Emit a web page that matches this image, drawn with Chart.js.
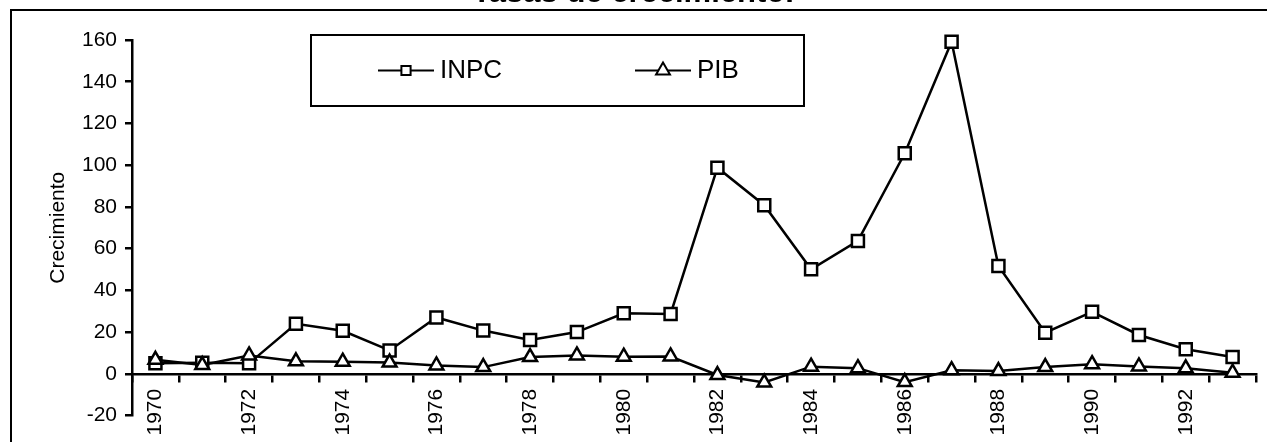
<!DOCTYPE html>
<html lang="es">
<head>
  <meta charset="UTF-8" />
  <title>Tasas de crecimiento</title>
  <script src="https://cdn.jsdelivr.net/npm/chart.js"></script>
  <style>
    body { margin: 0; background: #fff; overflow: hidden; width: 1267px; height: 442px; position: relative; }
    /* marco exterior del grafico, se sale por la derecha y por abajo */
    #frame { position: absolute; left: 10px; top: 9px; width: 1300px; height: 500px; border: 2px solid #000; }
    #wrap { position: absolute; left: 0; top: -25px; }
  </style>
</head>
<body>
  <div id="frame"></div>
  <div id="wrap"><canvas id="growthChart" width="1267" height="467"></canvas></div>

  <script>
    // datos
    const years = ['1970', '1971', '1972', '1973', '1974', '1975', '1976', '1977', '1978', '1979', '1980', '1981',
      '1982', '1983', '1984', '1985', '1986', '1987', '1988', '1989', '1990', '1991', '1992', '1993'];
    const inpc = [5.0, 5.3, 5.0, 24.0, 20.6, 11.2, 27.0, 20.7, 16.2, 20.0, 29.0, 28.7,
      98.8, 80.8, 50.1, 63.7, 105.7, 159.2, 51.7, 19.7, 29.7, 18.6, 11.8, 8.0];
    const pib = [6.7, 4.2, 8.8, 6.0, 5.8, 5.4, 4.0, 3.2, 8.0, 8.8, 8.2, 8.3,
      -0.6, -4.2, 3.4, 2.7, -4.0, 1.7, 1.3, 3.2, 4.6, 3.5, 2.6, 0.5];
    const seriesNames = ['INPC', 'PIB'];
    const yMin = -20, yMax = 160, yStep = 20;

    Chart.defaults.font.family = 'Arial, "Liberation Sans", sans-serif';
    Chart.defaults.color = '#000';

    // leyenda con recuadro, como en la grafica original
    const boxLegend = {
      id: 'boxLegend',
      afterDraw(chart) {
        const ctx = chart.ctx;
        const box = { x: 311, y: 60, w: 493, h: 71 };
        const starts = [378, 635];
        const cy = box.y + box.h / 2;
        ctx.save();
        ctx.fillStyle = '#fff';
        ctx.fillRect(box.x, box.y, box.w, box.h);
        ctx.lineWidth = 2;
        ctx.strokeStyle = '#000';
        ctx.strokeRect(box.x, box.y, box.w, box.h);
        chart.data.datasets.forEach((ds, i) => {
          const x0 = starts[i];
          ctx.beginPath();
          ctx.lineWidth = 2;
          ctx.moveTo(x0, cy);
          ctx.lineTo(x0 + 56, cy);
          ctx.stroke();
          ctx.fillStyle = '#fff';
          ctx.lineWidth = 2;
          Chart.helpers.drawPoint(ctx, {
            pointStyle: ds.pointStyle,
            radius: ds.pointStyle === 'rect' ? 6.5 : 8,
            borderWidth: 2,
            rotation: 0
          }, x0 + 28, cy);
          ctx.fillStyle = '#000';
          ctx.font = '26px Arial, "Liberation Sans", sans-serif';
          ctx.textBaseline = 'middle';
          ctx.fillText(ds.label, x0 + 62, cy);
        });
        ctx.restore();
      }
    };

    new Chart(document.getElementById('growthChart'), {
      type: 'line',
      data: {
        labels: years,
        datasets: [
          {
            label: seriesNames[0], data: inpc, order: 1, clip: false,
            borderColor: '#000', borderWidth: 2.5, tension: 0,
            pointStyle: 'rect', pointRadius: 8.5, pointBorderWidth: 2.5,
            pointBackgroundColor: '#fff', pointBorderColor: '#000'
          },
          {
            label: seriesNames[1], data: pib, order: 0, clip: false,
            borderColor: '#000', borderWidth: 2.5, tension: 0,
            pointStyle: 'triangle', pointRadius: 8, pointBorderWidth: 2.5,
            pointBackgroundColor: '#fff', pointBorderColor: '#000'
          }
        ]
      },
      options: {
        responsive: false,
        animation: false,
        layout: { padding: { left: 0, right: 1, top: 0, bottom: 26.5 } },
        plugins: {
          legend: { display: false },
          tooltip: { enabled: false },
          title: {
            display: true,
            text: 'Tasas de crecimiento.',
            font: { size: 31, weight: 'bold' },
            color: '#000',
            padding: { top: 0, bottom: 27.8 }
          }
        },
        scales: {
          x: {
            type: 'category',
            position: { y: 0 },
            offset: true,
            grid: { offset: true, drawOnChartArea: false, drawTicks: true, tickLength: 7, color: '#000', lineWidth: 2.5 },
            border: { display: true, color: '#000', width: 2.5 },
            ticks: {
              autoSkip: false,
              minRotation: 90,
              maxRotation: 90,
              padding: 8,
              font: { size: 21 },
              color: '#000',
              callback(value, index) {
                return index % 2 === 0 ? this.getLabelForValue(value) : '';
              }
            }
          },
          y: {
            min: yMin,
            max: yMax,
            afterFit(scale) { scale.width = 132; },
            grid: { drawOnChartArea: false, drawTicks: true, tickLength: 7, color: '#000', lineWidth: 2.5 },
            border: { display: true, color: '#000', width: 2.5 },
            ticks: { stepSize: yStep, padding: 8, font: { size: 21 }, color: '#000' },
            title: {
              display: true,
              text: 'Crecimiento',
              font: { size: 21 },
              color: '#000',
              padding: { top: 46, bottom: 0 }
            }
          }
        }
      },
      plugins: [boxLegend]
    });
  </script>
</body>
</html>
